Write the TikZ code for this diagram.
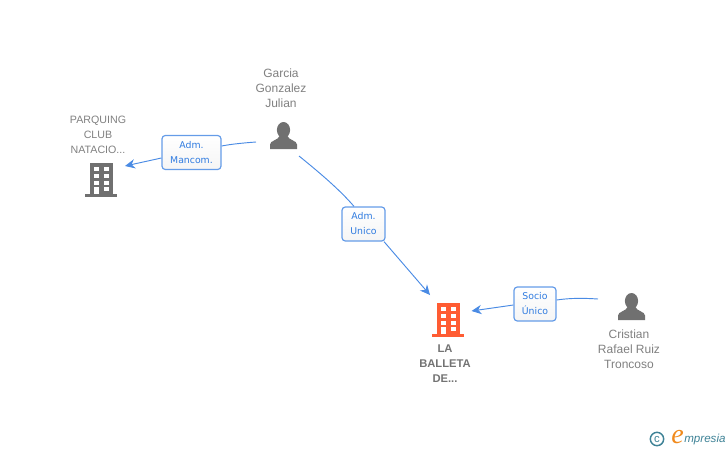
\documentclass[tikz,border=0pt]{standalone}
\usepackage{fontspec}
\setmainfont{Liberation Sans}
\newfontfamily\boxfont{DejaVu Sans}
\newfontfamily\logofont{Liberation Serif}
\usepackage{tikz}
\usetikzlibrary{arrows.meta}
\definecolor{linkblue}{HTML}{4A8BE4}
\definecolor{textblue}{HTML}{2F7BE0}
\definecolor{icongray}{HTML}{707070}
\definecolor{labelgray}{HTML}{808080}
\definecolor{iconorange}{HTML}{FF5C33}
\definecolor{logoteal}{HTML}{3E8296}
\definecolor{logoorange}{HTML}{F08A1D}
\tikzset{
	link/.style={linkblue, line width=0.7pt},
	linkarrow/.style={link, -{Stealth[length=7.5pt,width=7pt]}},
	rolebox/.style={draw=linkblue!85, line width=0.9pt, rounded corners=2.5pt, top color=white, bottom color=black!4, text=textblue, font=\boxfont\fontsize{7}{11.25}\selectfont, align=center, inner sep=0pt},
	namelabel/.style={text=labelgray, font=\fontsize{9}{11.25}\selectfont, align=center, inner sep=0pt},
	capslabel/.style={namelabel, font=\fontsize{8}{11.25}\selectfont},
	mainlabel/.style={text=labelgray!90!black, font=\bfseries\fontsize{8.4}{11.25}\selectfont, align=center, inner sep=0pt},
	person/.pic={
		\fill[icongray] (0,-5.5) ellipse (6.6 and 8);
		\fill[icongray] (-13.5,13.5) -- (-13.5,9) .. controls (-13.5,5) and (-5.5,5) .. (-3.5,0) -- (3.5,0) .. controls (5.5,5) and (13.5,5) .. (13.5,9) -- (13.5,13.5) -- cycle;
	},
	building/.pic={
		\fill (-11,-17) rectangle (12,15);
		\fill (-16,14.3) rectangle (16,16.7);
		\foreach \y in {-12.7,-6,0.7}
			\foreach \x in {-7,2.5}
				\fill[white] (\x,\y) rectangle ++(5.2,4);
		\fill[white] (2.5,6.7) rectangle ++(5.2,4.6);
		\fill[white] (-7,6.7) rectangle (-1.8,14.4);
	}
}
\begin{document}
\begin{tikzpicture}[x=0.75pt,y=-0.75pt]
	\useasboundingbox (0,0) rectangle (728,450);
	% icons
	\node (garcia) at (283.5,135.5) {};
	\pic at (garcia) {person};
	\node (cristian) at (631.5,306.5) {};
	\pic at (cristian) {person};
	\node (parquing) at (101,180) {};
	\pic[icongray] at (parquing) {building};
	\node (balleta) at (448,320) {};
	\pic[iconorange] at (balleta) {building};
	% names
	\node[namelabel] (garcianame) at (281,88) {Garcia\\Gonzalez\\Julian};
	\node[capslabel] (parquingname) at (98,134.8) {PARQUING\\CLUB\\NATACIO...};
	\node[namelabel] (cristianname) at (629,349) {Cristian\\Rafael Ruiz\\Troncoso};
	\node[mainlabel] (balletaname) at (445,364) {LA\\BALLETA\\DE...};
	% role boxes
	\node[rolebox, minimum width=44.25pt, minimum height=25.5pt] (mancom) at (191.5,152.5) {Adm.\\Mancom.};
	\node[rolebox, minimum width=32.25pt, minimum height=25.5pt] (unico) at (363.5,224) {Adm.\\Unico};
	\node[rolebox, minimum width=31.5pt, minimum height=25.5pt] (socio) at (535,304) {Socio\\Único};
	% free ends of the links
	\coordinate (garciaW) at (256,142);
	\coordinate (garciaS) at (299,156);
	\coordinate (parquingE) at (125,166);
	\coordinate (balletaN) at (430,295);
	\coordinate (balletaE) at (471.5,311);
	\coordinate (cristianW) at (598,299);
	% links
	\draw[link] (garciaW) .. controls (243,143) and (232,144) .. (mancom.east |- 0,146);
	\draw[linkarrow] (mancom.west |- 0,158) -- (parquingE);
	\draw[link] (garciaS) .. controls (320,173) and (340,190) .. (unico.north -| 354,0);
	\draw[linkarrow] (unico.south -| 384,0) -- (balletaN);
	\draw[link] (cristianW) .. controls (583,298) and (570,298) .. (socio.east |- 0,300);
	\draw[linkarrow] (socio.west |- 0,305) -- (balletaE);
	% logo
	\node[draw=logoteal, line width=1.1pt, circle, minimum size=10pt, inner sep=0pt, text=logoteal, font=\fontsize{8.5}{8.5}\selectfont] (copyr) at (657,439) {c};
	\node[text=logoorange, inner sep=0pt, font=\logofont\itshape\fontsize{21}{21}\selectfont] (logoe) at (677.5,437) {e};
	\node[text=logoteal, inner sep=0pt, anchor=west, font=\itshape\fontsize{8.7}{8.7}\selectfont] (logotext) at (684,439.5) {mpresia};
\end{tikzpicture}
\end{document}
